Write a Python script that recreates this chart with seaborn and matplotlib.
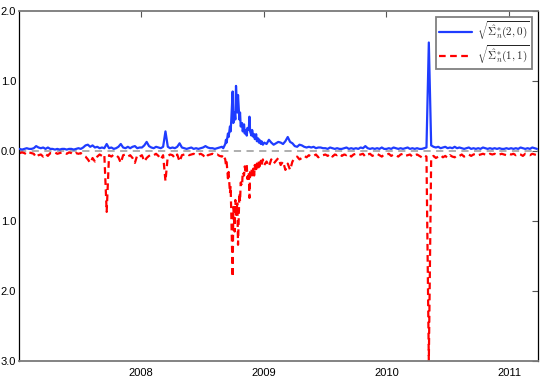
import matplotlib
matplotlib.use('Agg')
import matplotlib.pyplot as plt
import matplotlib.dates as mdates
import matplotlib.ticker as mticker
import seaborn as sns
import pandas as pd

# weekly values (Fridays), plus a finer stretch
# (every 2nd business day) for the autumn 2008 crisis
blue_2007 = [0.03, 0.02, 0.03, 0.04, 0.03, 0.03, 0.04, 0.07, 0.05,
             0.04, 0.05, 0.03, 0.05, 0.03,
             0.03, 0.02, 0.03, 0.02, 0.03, 0.03, 0.02, 0.03, 0.03, 0.02, 0.03, 0.04, 0.03, 0.05,
             0.08, 0.09, 0.06, 0.08, 0.05, 0.06, 0.04, 0.05, 0.04, 0.10,
             0.04, 0.05, 0.03, 0.04, 0.06, 0.10, 0.05, 0.04, 0.06, 0.04,
             0.06, 0.07, 0.04, 0.05]
red_2007 = [-0.03, -0.02, -0.03, -0.05, -0.02, -0.03, -0.04, -0.09, -0.06,
            -0.05, -0.08, -0.04, -0.07, -0.03,
            -0.03, -0.02, -0.04, -0.03, -0.02, -0.03, -0.04, -0.02, -0.03, -0.05, -0.03, -0.04, -0.03, -0.06,
            -0.08, -0.12, -0.17, -0.10, -0.15, -0.08, -0.05, -0.07, -0.05, -0.87,
            -0.06, -0.08, -0.05, -0.06, -0.09, -0.17, -0.06, -0.05, -0.08, -0.06,
            -0.10, -0.17, -0.06, -0.08]

# Jan - Aug 2008, weekly
blue_2008 = [0.05, 0.08, 0.13, 0.07, 0.05, 0.04, 0.06, 0.05, 0.04, 0.06,
             0.28, 0.06, 0.04, 0.05, 0.04, 0.06, 0.11, 0.05,
             0.04, 0.03, 0.04, 0.05, 0.03, 0.04, 0.03, 0.04, 0.05, 0.07,
             0.05, 0.04, 0.04, 0.03, 0.04, 0.05, 0.06]
red_2008 = [-0.06, -0.15, -0.10, -0.07, -0.05, -0.06, -0.04, -0.07, -0.12, -0.06,
            -0.43, -0.07, -0.05, -0.06, -0.10, -0.05, -0.15, -0.06,
            -0.05, -0.04, -0.06, -0.05, -0.04, -0.06, -0.05, -0.04, -0.06, -0.10,
            -0.06, -0.05, -0.04, -0.06, -0.05, -0.07, -0.08]

# Sep - Dec 2008, every second business day
blue_crisis = [0.04, 0.06, 0.10, 0.16, 0.12, 0.25, 0.20, 0.35, 0.28, 0.45,
               0.85, 0.40, 0.55, 0.45, 0.93, 0.55, 0.80, 0.45, 0.55, 0.35,
               0.40, 0.28, 0.38, 0.25, 0.30, 0.22, 0.33, 0.30, 0.49, 0.28,
               0.22, 0.30, 0.20, 0.24, 0.17, 0.24, 0.14, 0.18, 0.12, 0.16,
               0.10, 0.14, 0.09]
red_crisis = [-0.05, -0.08, -0.12, -0.20, -0.15, -0.39, -0.30, -0.60, -0.50, -0.90,
              -1.80, -0.80, -1.15, -0.70, -0.91, -0.75, -1.34, -0.60, -0.72, -0.45,
              -0.50, -0.30, -0.35, -0.22, -0.28, -0.20, -0.40, -0.30, -0.67, -0.30,
              -0.25, -0.38, -0.25, -0.35, -0.20, -0.30, -0.18, -0.25, -0.15, -0.22,
              -0.14, -0.20, -0.12]

blue_2009 = [0.12, 0.10, 0.16, 0.12, 0.09, 0.11, 0.13, 0.12, 0.10, 0.14,
             0.20, 0.13, 0.11, 0.07, 0.06, 0.09, 0.08, 0.06, 0.05, 0.06,
             0.05, 0.06, 0.04, 0.05, 0.05, 0.04,
             0.04, 0.03, 0.05, 0.04, 0.03, 0.04, 0.03,
             0.03, 0.04, 0.05, 0.03, 0.04, 0.03, 0.04, 0.03, 0.05, 0.04,
             0.07, 0.04, 0.03, 0.04, 0.03, 0.04, 0.03, 0.05, 0.03]
red_2009 = [-0.20, -0.15, -0.22, -0.12, -0.18, -0.14, -0.10, -0.20, -0.15, -0.27,
            -0.18, -0.27, -0.15, -0.10, -0.08, -0.12, -0.10, -0.07, -0.09, -0.06,
            -0.08, -0.07, -0.05, -0.09, -0.06, -0.06,
            -0.05, -0.07, -0.04, -0.08, -0.05, -0.06, -0.04,
            -0.07, -0.05, -0.06, -0.04, -0.08, -0.05, -0.04, -0.06, -0.05, -0.04,
            -0.08, -0.05, -0.04, -0.07, -0.05, -0.04, -0.06, -0.08, -0.05]

blue_2010 = [0.03, 0.04, 0.03, 0.05, 0.04, 0.03, 0.04, 0.03, 0.04, 0.05,
             0.03, 0.04, 0.03, 0.04, 0.03, 0.03, 0.04, 0.05,
             1.55, 0.08, 0.06, 0.05,
             0.06, 0.04, 0.05, 0.06, 0.04, 0.05, 0.04, 0.06, 0.04, 0.05,
             0.04, 0.03, 0.04, 0.05, 0.03, 0.04, 0.03, 0.04, 0.03, 0.05,
             0.04, 0.03, 0.04, 0.03, 0.04, 0.03, 0.04, 0.03, 0.03, 0.04, 0.03]
red_2010 = [-0.05, -0.04, -0.07, -0.05, -0.06, -0.08, -0.05, -0.04, -0.07, -0.06,
            -0.05, -0.08, -0.06, -0.05, -0.07, -0.09, -0.06, -0.08,
            -3.00, -0.10, -0.07, -0.10,
            -0.08, -0.06, -0.09, -0.07, -0.10, -0.06, -0.08, -0.09, -0.06, -0.07,
            -0.05, -0.08, -0.06, -0.05, -0.07, -0.05, -0.04, -0.06, -0.05, -0.04,
            -0.05, -0.06, -0.04, -0.05, -0.04, -0.06, -0.05, -0.04, -0.05, -0.06, -0.04]

blue_2011 = [0.04, 0.03, 0.04, 0.03, 0.05, 0.04, 0.03, 0.04, 0.03, 0.05, 0.04, 0.03]
red_2011 = [-0.05, -0.04, -0.06, -0.04, -0.05, -0.07, -0.04, -0.05, -0.06, -0.04, -0.05, -0.06]

blue_label = r'$\sqrt{\hat{\Sigma}^{*}_{n}(2,0)}$'
red_label = r'$\sqrt{\hat{\Sigma}^{*}_{n}(1,1)}$'
y_ticks = [-3.0, -2.0, -1.0, 0.0, 1.0, 2.0]

dates = (pd.date_range('2007-01-05', '2008-08-29', freq='W-FRI')
         .append(pd.date_range('2008-09-02', periods=len(blue_crisis), freq='2B'))
         .append(pd.date_range('2009-01-02', '2011-03-25', freq='W-FRI')))
df = pd.DataFrame({
    'date': dates,
    'blue': blue_2007 + blue_2008 + blue_crisis + blue_2009 + blue_2010 + blue_2011,
    'red': red_2007 + red_2008 + red_crisis + red_2009 + red_2010 + red_2011,
})

sns.set_style('white')
plt.rcParams['font.family'] = ['Liberation Sans', 'DejaVu Sans']
plt.rcParams['mathtext.fontset'] = 'cm'

fig = plt.figure(figsize=(5.47, 3.92), dpi=100)
ax = fig.add_axes([19 / 547, 1 - 361 / 392, 519 / 547, 350 / 392])

ax.axhline(0, color='#a8a8a8', lw=1.3, ls=(0, (4, 3)), zorder=1)
sns.lineplot(data=df, x='date', y='blue', ax=ax, color='#1f3cff', lw=1.6,
             label=blue_label, zorder=3)
sns.lineplot(data=df, x='date', y='red', ax=ax, color='#ff0000', lw=1.6,
             linestyle=(0, (3, 2)), label=red_label, zorder=2)

ax.set_xlim(pd.Timestamp('2007-01-03'), pd.Timestamp('2011-03-28'))
ax.set_ylim(-3.0, 2.0)
ax.set_xlabel('')
ax.set_ylabel('')

ax.xaxis.set_major_locator(mdates.YearLocator())
ax.xaxis.set_major_formatter(mdates.DateFormatter('%Y'))
ax.set_yticks(y_ticks)
ax.yaxis.set_major_formatter(mticker.FuncFormatter(lambda v, p: f'{abs(v):.1f}'))
ax.tick_params(direction='in', length=4, width=0.8, color='#555555',
               labelsize=8, pad=2, top=True, right=True, labelcolor='black')
ax.tick_params(axis='x', pad=5)

for side in ['left', 'right']:
    ax.spines[side].set_color('black')
    ax.spines[side].set_linewidth(0.9)
for side in ['top', 'bottom']:
    ax.spines[side].set_color('#7a7a7a')
    ax.spines[side].set_linewidth(1.3)

leg = ax.legend(loc='upper right', fontsize=8, handlelength=3.0, handletextpad=0.4,
                borderaxespad=0.5, fancybox=False, framealpha=1, borderpad=0.25,
                labelspacing=0.15)
leg.get_frame().set_edgecolor('#808080')
leg.get_frame().set_linewidth(1.3)

fig.savefig('out.png', dpi=100)
